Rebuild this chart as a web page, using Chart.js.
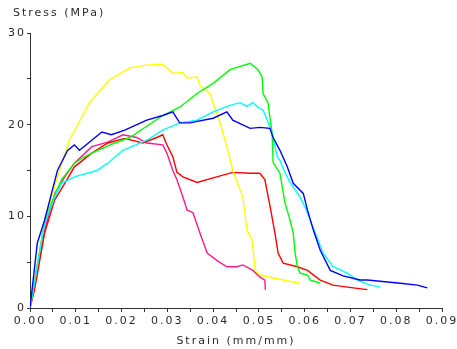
<!DOCTYPE html>
<html>
<head>
  <meta charset="UTF-8">
  <title>Stress-Strain</title>
  <script src="https://cdn.jsdelivr.net/npm/chart.js"></script>
  <style>
    body { margin: 0; background: #fff; }
  </style>
</head>
<body>
  <canvas id="chart" width="457" height="349"></canvas>

  <script>
    // values
    const yellowStrain = [0, 0.0032, 0.006, 0.0086, 0.013, 0.0174, 0.0218, 0.0255, 0.029, 0.0312, 0.0334, 0.0343, 0.0365, 0.0371, 0.0393, 0.0415, 0.043, 0.0443, 0.0465, 0.0474, 0.0485, 0.0492, 0.0502, 0.0553, 0.059];
    const yellowStress = [0, 9.6, 14.3, 18.3, 22.4, 24.9, 26.2, 26.5, 26.6, 25.6, 25.7, 25.1, 25.2, 24.3, 23.4, 20.2, 17.6, 15.0, 12.1, 8.5, 7.4, 4.1, 3.6, 3.05, 2.7];

    const blueStrain = [0, 0.0016, 0.0032, 0.0047, 0.006, 0.0082, 0.0097, 0.0108, 0.0135, 0.0157, 0.0178, 0.0207, 0.0255, 0.029, 0.0312, 0.0327, 0.0349, 0.04, 0.043, 0.0443, 0.0481, 0.0502, 0.0524, 0.0531, 0.0546, 0.0562, 0.0575, 0.0597, 0.0606, 0.0619, 0.0634, 0.0656, 0.0684, 0.0721, 0.0737, 0.0809, 0.0846, 0.0868];
    const blueStress = [0, 7.1, 9.6, 12.5, 15.0, 17.2, 17.8, 17.2, 18.3, 19.2, 18.9, 19.4, 20.5, 21.0, 21.4, 20.2, 20.2, 20.7, 21.4, 20.5, 19.6, 19.7, 19.6, 18.6, 17.2, 15.4, 13.6, 12.5, 10.7, 8.5, 6.3, 4.1, 3.5, 3.05, 3.05, 2.7, 2.5, 2.2];

    const greenStrain = [0, 0.0032, 0.0047, 0.0069, 0.0097, 0.0119, 0.0148, 0.0185, 0.0218, 0.029, 0.0327, 0.0365, 0.04, 0.0437, 0.0481, 0.0498, 0.0507, 0.0509, 0.052, 0.0524, 0.0529, 0.0531, 0.0546, 0.0551, 0.0557, 0.0568, 0.0575, 0.0579, 0.0584, 0.059, 0.0606, 0.0612, 0.0634];
    const greenStress = [0, 9.3, 11.5, 14.0, 15.8, 16.5, 17.2, 18.0, 18.6, 21.0, 21.9, 23.4, 24.5, 26.0, 26.7, 26.0, 25.2, 23.4, 22.4, 20.8, 19.1, 15.9, 14.7, 13.2, 11.5, 9.6, 8.2, 6.1, 4.5, 3.8, 3.6, 3.05, 2.7];

    const cyanStrain = [0, 0.0032, 0.0054, 0.0069, 0.0097, 0.0146, 0.017, 0.0203, 0.0255, 0.029, 0.0327, 0.0365, 0.04, 0.0437, 0.0459, 0.0474, 0.0487, 0.0498, 0.0509, 0.0518, 0.0529, 0.054, 0.0546, 0.0557, 0.0568, 0.0579, 0.059, 0.0601, 0.0612, 0.0623, 0.064, 0.0662, 0.0693, 0.0715, 0.0743, 0.0765];
    const cyanStress = [0, 9.3, 12.1, 13.6, 14.3, 15.0, 15.8, 17.2, 18.3, 19.4, 20.2, 20.5, 21.4, 22.1, 22.4, 22.0, 22.4, 21.9, 21.6, 20.5, 19.1, 16.5, 16.1, 14.8, 13.7, 12.9, 12.1, 11.0, 9.6, 8.2, 6.0, 4.5, 3.8, 3.05, 2.5, 2.3];

    const redStrain = [0, 0.001, 0.0032, 0.0054, 0.0076, 0.0097, 0.0135, 0.017, 0.0207, 0.0246, 0.0277, 0.029, 0.0299, 0.0312, 0.0321, 0.0334, 0.0365, 0.04, 0.0443, 0.0481, 0.0502, 0.0513, 0.0524, 0.0535, 0.0542, 0.0553, 0.0584, 0.0606, 0.0634, 0.0662, 0.0706, 0.0737];
    const redStress = [0, 2.0, 8.2, 11.8, 13.6, 15.4, 16.9, 18.0, 18.5, 18.0, 18.6, 18.9, 17.8, 16.5, 14.8, 14.3, 13.7, 14.2, 14.8, 14.7, 14.7, 14.0, 11.2, 8.2, 6.0, 4.9, 4.5, 4.1, 3.05, 2.5, 2.2, 2.0];

    const pinkStrain = [0, 0.001, 0.0032, 0.0054, 0.0076, 0.0097, 0.0135, 0.017, 0.0203, 0.0233, 0.0255, 0.029, 0.0299, 0.0312, 0.0321, 0.0334, 0.0343, 0.0356, 0.0371, 0.0387, 0.0408, 0.043, 0.0452, 0.0465, 0.0487, 0.0502, 0.0513, 0.0514];
    const pinkStress = [0, 2.7, 8.5, 12.5, 14.3, 15.8, 17.6, 18.1, 18.9, 18.6, 18.0, 17.8, 16.9, 15.0, 14.0, 12.1, 10.7, 10.4, 8.2, 6.0, 5.2, 4.5, 4.5, 4.7, 4.1, 3.4, 3.05, 2.0];

    const xTitle = 'Strain (mm/mm)';
    const yTitle = 'Stress (MPa)';

    function toPoints(xs, ys) {
      return xs.map((x, i) => ({ x: x, y: ys[i] }));
    }

    function series(xs, ys, color) {
      return {
        data: toPoints(xs, ys),
        borderColor: color,
        borderWidth: 1.4,
        pointRadius: 0,
        fill: false,
        tension: 0
      };
    }

    const textFont = { family: 'DejaVu Sans', size: 11, weight: 'normal' };
    const ink = '#2a2a2a';

    // wider letter spacing like the original rendering;
    // the y scale box is narrow (title starts at x=13), so let its labels
    // spill to the left instead of being clipped to the box
    const tweaks = {
      id: 'tweaks',
      afterLayout(chart) { chart.scales.y.left = 0; },
      beforeDraw(chart) { chart.ctx.letterSpacing = '2px'; }
    };

    new Chart(document.getElementById('chart'), {
      type: 'line',
      data: {
        datasets: [
          series(blueStrain, blueStress, '#0000ff'),
          series(cyanStrain, cyanStress, '#00ffff'),
          series(greenStrain, greenStress, '#00ff00'),
          series(yellowStrain, yellowStress, '#ffff00'),
          series(redStrain, redStress, '#ff0000'),
          series(pinkStrain, pinkStress, '#ff1a8c')
        ]
      },
      options: {
        responsive: false,
        animation: false,
        layout: { padding: { left: 13, right: 15, top: 0, bottom: 0 } },
        plugins: {
          legend: { display: false },
          tooltip: { enabled: false },
          title: {
            display: true,
            text: yTitle,
            align: 'start',
            color: ink,
            font: textFont,
            padding: { top: 7, bottom: 12.8 }
          }
        },
        scales: {
          x: {
            type: 'linear',
            min: 0,
            max: 0.09,
            afterFit: s => { s.height = 41; s.paddingLeft = 0; s.paddingRight = 0; },
            grid: { drawOnChartArea: false, tickLength: 4, color: '#333' },
            border: { color: '#333', width: 1 },
            ticks: {
              stepSize: 0.005,
              autoSkip: false,
              maxRotation: 0,
              padding: 3,
              color: ink,
              font: textFont,
              callback: v => (Math.round(v * 200) % 2 === 0 ? v.toFixed(2) : '')
            },
            title: {
              display: true,
              text: xTitle,
              color: ink,
              font: textFont,
              padding: { top: 0, bottom: 1 }
            }
          },
          y: {
            min: 0,
            max: 30,
            afterFit: s => { s.width = 17; s.paddingTop = 0; s.paddingBottom = 0; },
            grid: { drawOnChartArea: false, tickLength: 3, color: '#333' },
            border: { color: '#333', width: 1 },
            ticks: {
              stepSize: 5,
              padding: 1,
              color: ink,
              font: textFont,
              callback: v => (v % 10 === 0 ? v : '')
            }
          }
        }
      },
      plugins: [tweaks]
    });
  </script>
</body>
</html>
